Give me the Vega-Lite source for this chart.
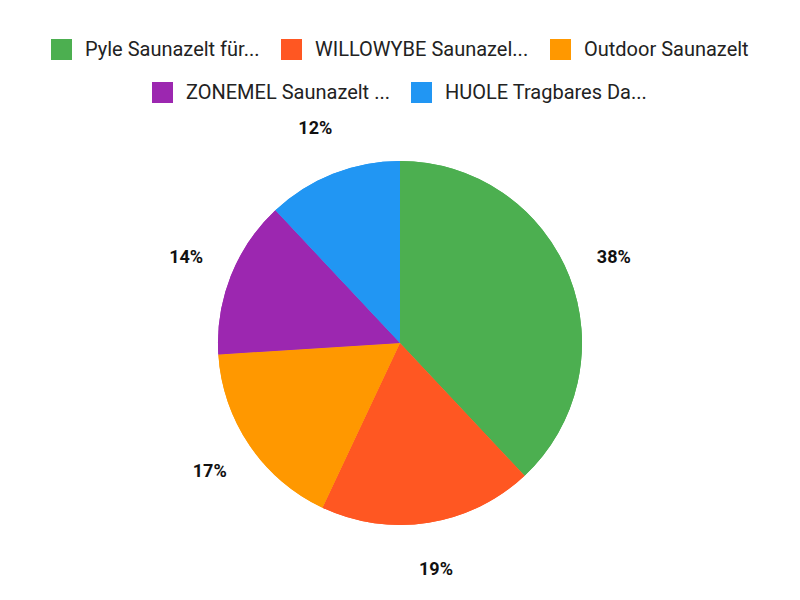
{
  "$schema": "https://vega.github.io/schema/vega-lite/v6.json",
  "width": 800,
  "height": 470,
  "padding": {"top": 108, "left": 0, "right": 0, "bottom": 0},
  "autosize": "none",
  "data": {
    "values": [
      {"product": "Pyle Saunazelt für...", "share": 0.38},
      {"product": "WILLOWYBE Saunazel...", "share": 0.19},
      {"product": "Outdoor Saunazelt", "share": 0.17},
      {"product": "ZONEMEL Saunazelt ...", "share": 0.14},
      {"product": "HUOLE Tragbares Da...", "share": 0.12}
    ]
  },
  "transform": [{"window": [{"op": "row_number", "as": "order"}]}],
  "encoding": {
    "theta": {"field": "share", "type": "quantitative", "stack": true},
    "order": {"field": "order", "type": "quantitative"}
  },
  "layer": [
    {
      "mark": {"type": "arc", "outerRadius": 182},
      "encoding": {
        "color": {
          "field": "product",
          "type": "nominal",
          "sort": null,
          "scale": {
            "domain": ["Pyle Saunazelt für...", "WILLOWYBE Saunazel...", "Outdoor Saunazelt", "ZONEMEL Saunazelt ...", "HUOLE Tragbares Da..."],
            "range": ["#4CAF50", "#FF5722", "#FF9800", "#9C27B0", "#2196F3"]
          },
          "legend": {
            "values": ["Pyle Saunazelt für...", "WILLOWYBE Saunazel...", "Outdoor Saunazelt"]
          }
        }
      }
    },
    {
      "mark": {"type": "arc", "outerRadius": 182},
      "encoding": {
        "color": {
          "field": "product",
          "type": "nominal",
          "sort": null,
          "scale": {
            "domain": ["Pyle Saunazelt für...", "WILLOWYBE Saunazel...", "Outdoor Saunazelt", "ZONEMEL Saunazelt ...", "HUOLE Tragbares Da..."],
            "range": ["#4CAF50", "#FF5722", "#FF9800", "#9C27B0", "#2196F3"]
          },
          "legend": {
            "values": ["ZONEMEL Saunazelt ...", "HUOLE Tragbares Da..."]
          }
        }
      }
    },
    {
      "mark": {"type": "text", "radius": 230, "font": "Roboto", "fontSize": 18, "fontWeight": "bold", "color": "#111111"},
      "encoding": {
        "text": {"field": "share", "type": "quantitative", "format": ".0%"}
      }
    }
  ],
  "resolve": {"scale": {"color": "independent"}},
  "config": {
    "view": {"stroke": null},
    "font": "Roboto",
    "legend": {
      "orient": "top",
      "direction": "horizontal",
      "title": null,
      "offset": 5,
      "symbolType": "square",
      "symbolSize": 441,
      "symbolStrokeWidth": 0,
      "symbolOpacity": 1,
      "labelFontSize": 20,
      "labelFont": "Roboto",
      "labelColor": "#222222",
      "labelLimit": 400,
      "columnPadding": 21,
      "labelOffset": 13,
      "layout": {"top": {"direction": "vertical", "anchor": "middle", "center": true, "margin": 22}}
    }
  }
}
